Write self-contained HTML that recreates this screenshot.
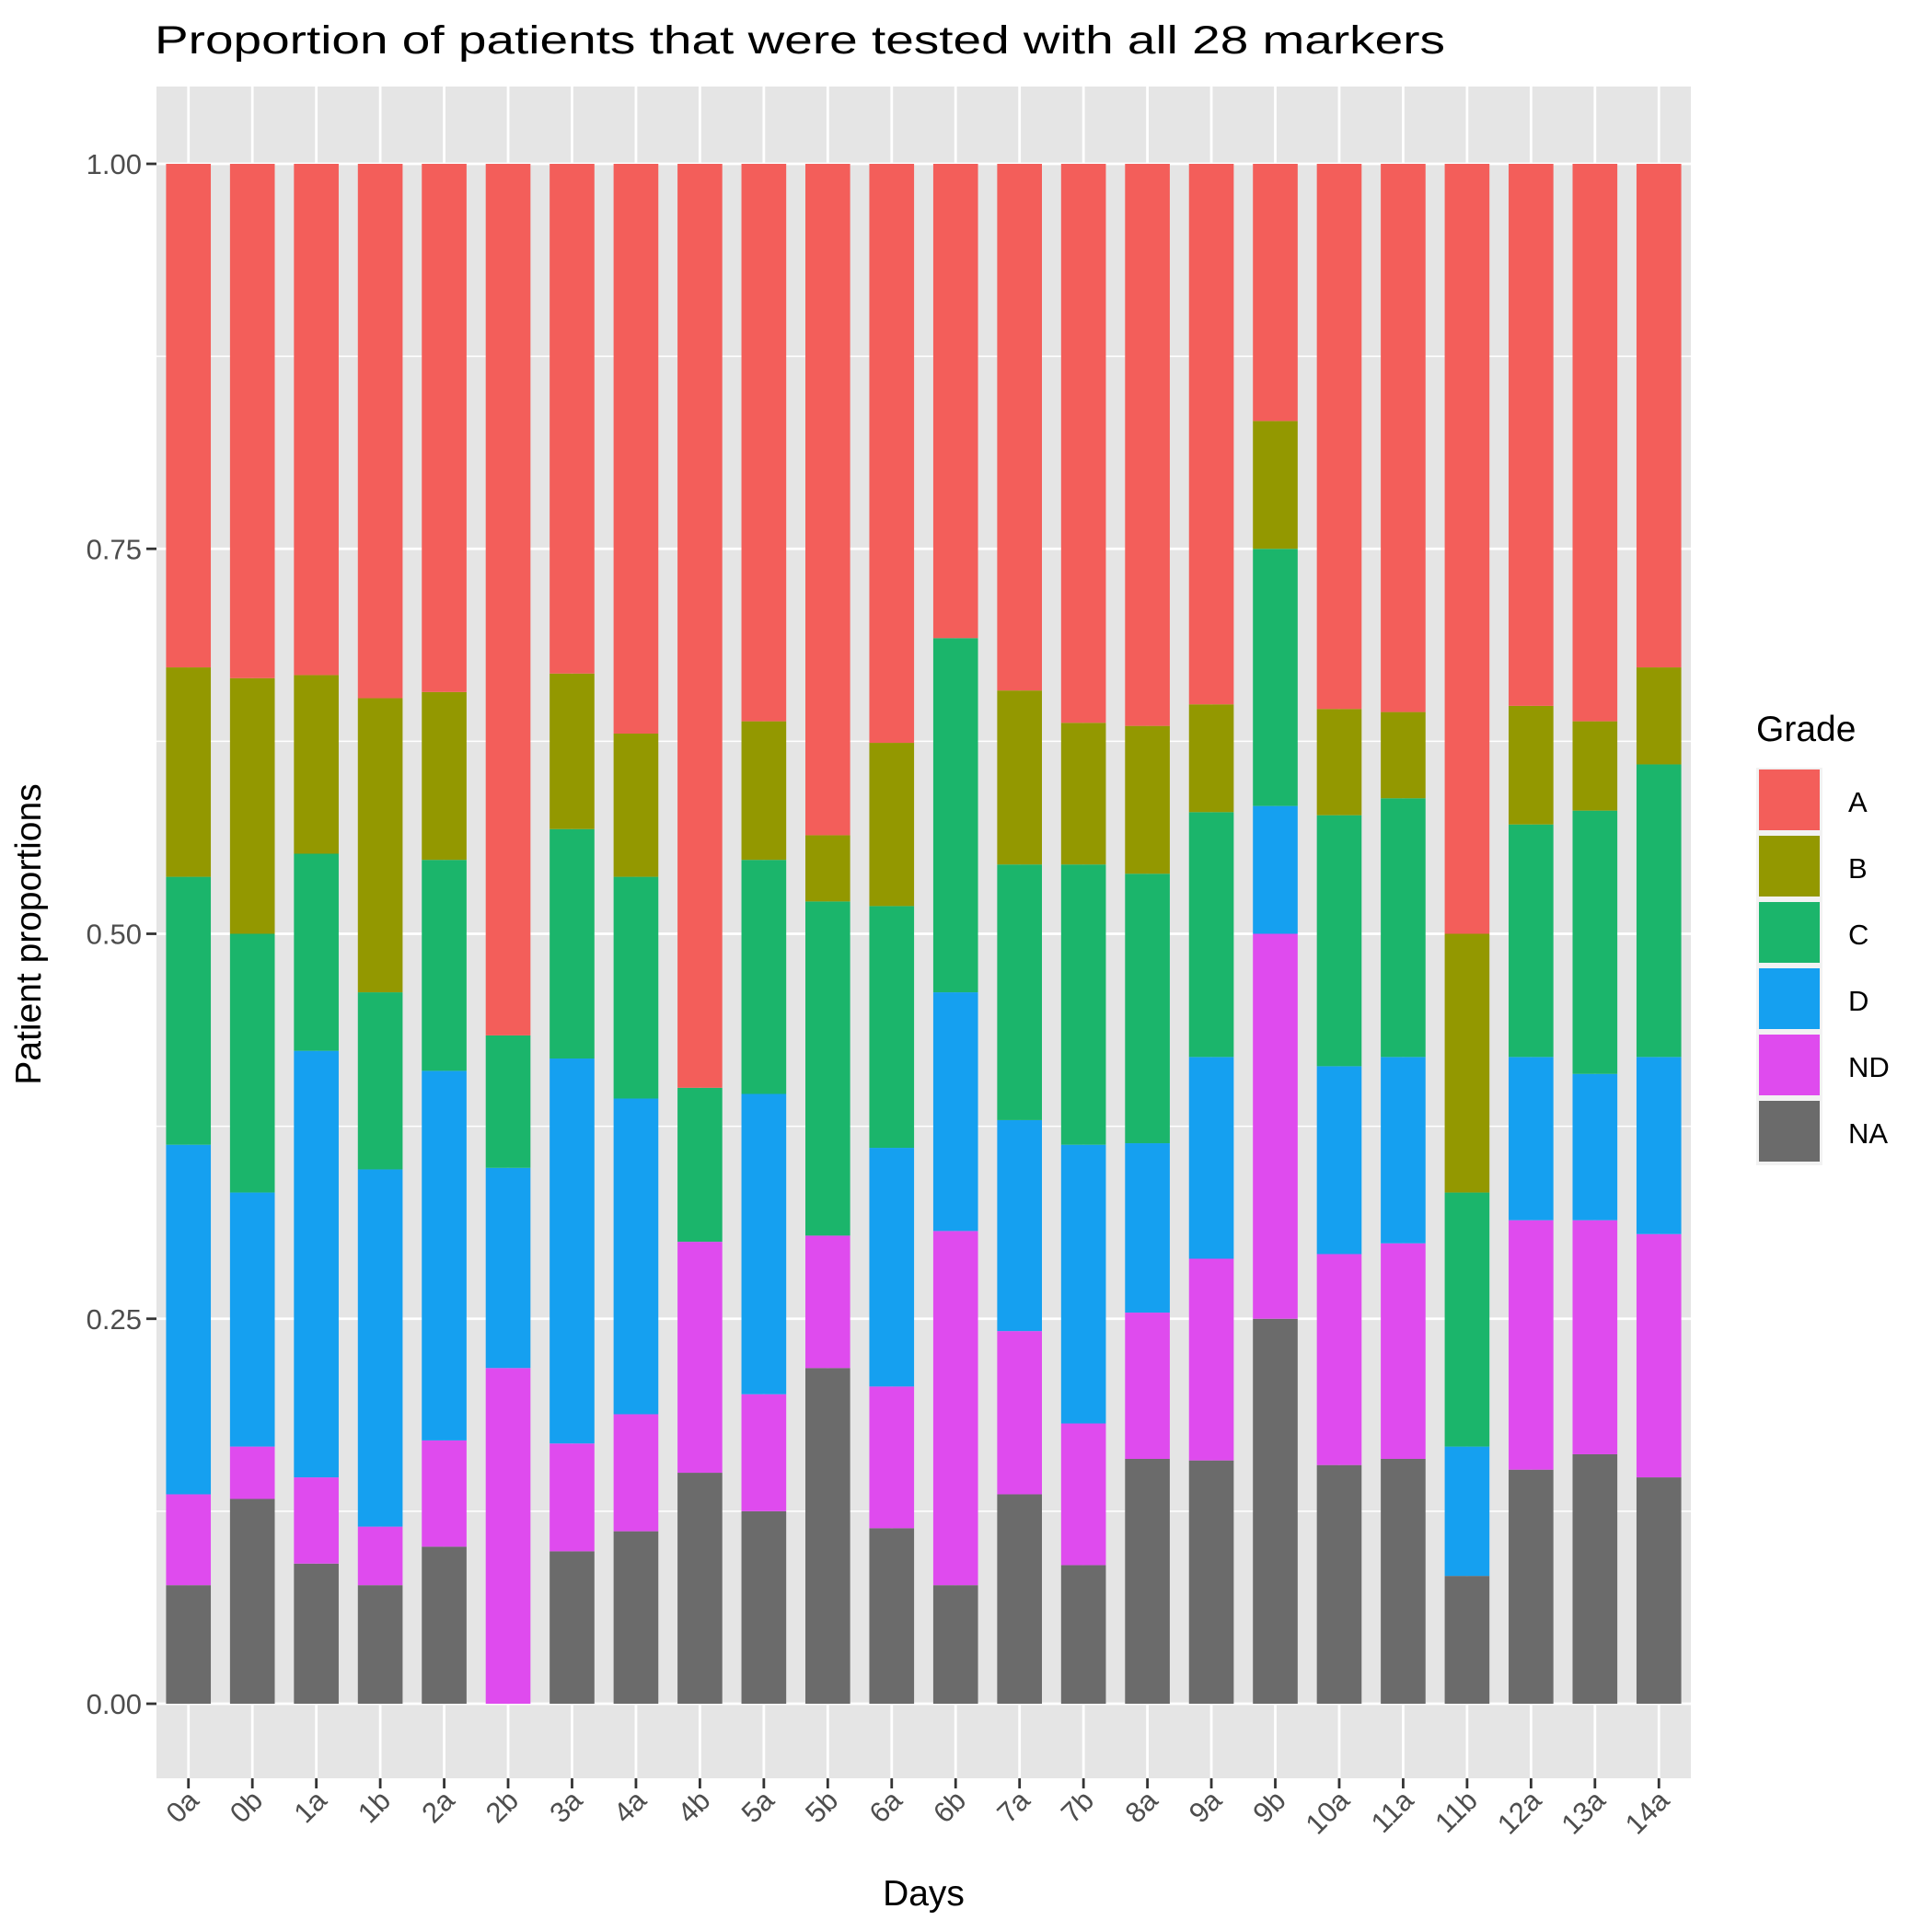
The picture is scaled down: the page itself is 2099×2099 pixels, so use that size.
<!DOCTYPE html>
<html><head><meta charset="utf-8"><style>body{margin:0;background:#fff}svg{display:block}</style></head>
<body>
<svg id="chart" width="2099" height="2099" viewBox="0 0 2099 2099" xmlns="http://www.w3.org/2000/svg" font-family="Liberation Sans, Arial, sans-serif"></svg>
<script>
const categories=["0a","0b","1a","1b","2a","2b","3a","4a","4b","5a","5b","6a","6b","7a","7b","8a","9a","9b","10a","11a","11b","12a","13a","14a"];
const grades=["NA","ND","D","C","B","A"];
const valNA=[0.077,0.133,0.091,0.077,0.102,0,0.099,0.112,0.150,0.125,0.218,0.114,0.077,0.136,0.090,0.159,0.158,0.25,0.155,0.159,0.083,0.152,0.162,0.147];
const valND=[0.059,0.034,0.056,0.038,0.069,0.218,0.070,0.076,0.150,0.076,0.086,0.092,0.230,0.106,0.092,0.095,0.131,0.25,0.137,0.140,0,0.162,0.152,0.158];
const valD=[0.227,0.165,0.277,0.232,0.240,0.130,0.250,0.205,0,0.195,0,0.155,0.155,0.137,0.181,0.110,0.131,0.083,0.122,0.121,0.084,0.106,0.095,0.115];
const valC=[0.174,0.168,0.128,0.115,0.137,0.086,0.149,0.144,0.100,0.152,0.217,0.157,0.230,0.166,0.182,0.175,0.159,0.167,0.163,0.168,0.165,0.151,0.171,0.190];
const valB=[0.136,0.166,0.116,0.191,0.109,0,0.101,0.093,0,0.090,0.043,0.106,0,0.113,0.092,0.096,0.070,0.083,0.069,0.056,0.168,0.077,0.058,0.063];
const valA=[0.327,0.334,0.332,0.347,0.343,0.566,0.331,0.370,0.600,0.362,0.436,0.376,0.308,0.342,0.363,0.365,0.351,0.167,0.354,0.356,0.5,0.352,0.362,0.327];
const yTicks=[0,0.25,0.5,0.75,1];
const yTickLabels=["0.00","0.25","0.50","0.75","1.00"];
const series={NA:valNA,ND:valND,D:valD,C:valC,B:valB,A:valA};
const colors={A:"#F35E5A",B:"#939800",C:"#1BB56B",D:"#15A0F0",ND:"#DF4BEE",NA:"#6B6B6B"};
const legendOrder=["A","B","C","D","ND","NA"];

const NS="http://www.w3.org/2000/svg";
const svg=document.getElementById('chart');
function mk(t,a,p){const e=document.createElementNS(NS,t);for(const k in a)e.setAttribute(k,a[k]);(p||svg).appendChild(e);return e;}
const PL=170,PR=1837,PT=94,PB=1932;
const yScale=v=>1851-v*(1851-178);
const step=(PR-PL)/categories.length;
const xScale=i=>PL+step*(i+0.5);
const bw=step*0.7;

const panel=mk('rect',{x:PL,y:PT,width:PR-PL,height:PB-PT,fill:'#E5E5E5'});


for(let k=0;k<4;k++){const v=0.125+k*0.25;const l=mk('line',{x1:PL,x2:PR,y1:yScale(v),y2:yScale(v),stroke:'#fff','stroke-width':1.4});

}
yTicks.forEach((v,i)=>{const l=mk('line',{x1:PL,x2:PR,y1:yScale(v),y2:yScale(v),stroke:'#fff','stroke-width':2.8});


const t=mk('line',{x1:PL-11,x2:PL,y1:yScale(v),y2:yScale(v),stroke:'#333','stroke-width':2.8});


const tx=mk('text',{x:PL-16,y:yScale(v)+11,'text-anchor':'end','font-size':31,fill:'#4D4D4D'});
tx.textContent=yTickLabels[i];

});
categories.forEach((c,i)=>{const x=xScale(i);
const l=mk('line',{x1:x,x2:x,y1:PT,y2:PB,stroke:'#fff','stroke-width':2.8});


const t=mk('line',{x1:x,x2:x,y1:PB,y2:PB+11,stroke:'#333','stroke-width':2.8});


const tx=mk('text',{x:x+13,y:PB+26,'text-anchor':'end','font-size':31,fill:'#4D4D4D',transform:`rotate(-45 ${x+13} ${PB+26})`});
tx.textContent=c;


let cum=0;
grades.forEach(g=>{const v=series[g][i];if(v<=0)return;
const r=mk('rect',{x:x-bw/2,y:yScale(cum+v),width:bw,height:yScale(cum)-yScale(cum+v),fill:colors[g]});


cum+=v;});
});
const title=mk('text',{x:168,y:58,'font-size':43,fill:'#000',textLength:1402,lengthAdjust:'spacingAndGlyphs'});
title.textContent='Proportion of patients that were tested with all 28 markers';


const xt=mk('text',{x:(PL+PR)/2,y:2070,'text-anchor':'middle','font-size':39,fill:'#000'});
xt.textContent='Days';


const yt=mk('text',{x:44,y:1015,'text-anchor':'middle','font-size':39,fill:'#000',transform:'rotate(-90 44 1015)'});
yt.textContent='Patient proportions';


const lt=mk('text',{x:1908,y:805,'font-size':39,fill:'#000'});
lt.textContent='Grade';


legendOrder.forEach((g,k)=>{const y=834+k*72;
const bg=mk('rect',{x:1908,y:y,width:72,height:72,fill:'#F2F2F2'});


const r=mk('rect',{x:1911,y:y+2,width:66,height:66,fill:colors[g]});


const t=mk('text',{x:2008,y:y+48,'font-size':31,fill:'#000'});
t.textContent=g;

});
</script>
</body></html>
